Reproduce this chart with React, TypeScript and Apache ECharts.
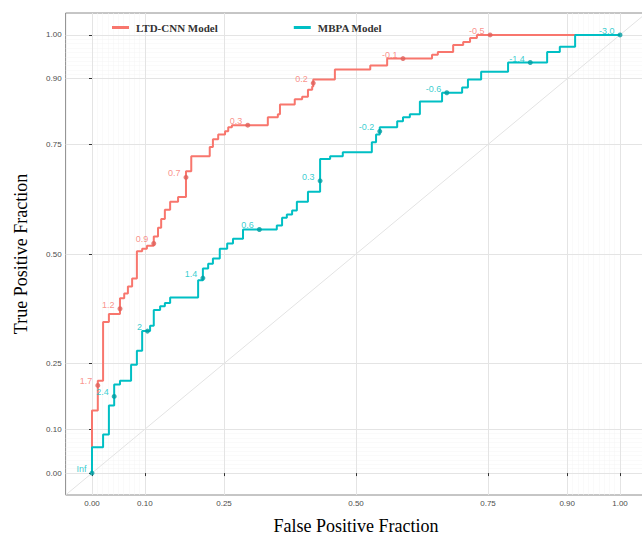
import React, { useEffect, useRef } from "react";
import * as echarts from "echarts";

// ROC step curves: x where a rise happens, TPR after the rise
const ltdFpr = [0, 0, 0.011, 0.021, 0.032, 0.053, 0.061, 0.068, 0.076, 0.085, 0.095, 0.104, 0.117, 0.125, 0.131, 0.138, 0.148, 0.163, 0.178, 0.188, 0.223, 0.229, 0.239, 0.252, 0.258, 0.265, 0.333, 0.352, 0.356, 0.384, 0.398, 0.409, 0.417, 0.419, 0.46, 0.527, 0.559, 0.644, 0.655, 0.684, 0.703, 0.716, 0.729, 1];
const ltdTpr = [0, 0.143, 0.211, 0.345, 0.363, 0.399, 0.41, 0.426, 0.444, 0.506, 0.512, 0.519, 0.54, 0.56, 0.58, 0.601, 0.619, 0.63, 0.689, 0.723, 0.744, 0.762, 0.773, 0.78, 0.789, 0.794, 0.812, 0.819, 0.841, 0.853, 0.859, 0.875, 0.882, 0.898, 0.921, 0.93, 0.946, 0.955, 0.961, 0.977, 0.984, 0.993, 1, 1];

const mbpaFpr = [0, 0, 0.021, 0.032, 0.042, 0.053, 0.074, 0.085, 0.095, 0.11, 0.117, 0.129, 0.138, 0.148, 0.201, 0.21, 0.22, 0.229, 0.242, 0.256, 0.267, 0.286, 0.35, 0.36, 0.369, 0.379, 0.388, 0.409, 0.432, 0.451, 0.475, 0.53, 0.538, 0.545, 0.578, 0.589, 0.602, 0.621, 0.663, 0.701, 0.712, 0.737, 0.788, 0.862, 0.886, 0.915, 1];
const mbpaTpr = [0, 0.059, 0.088, 0.154, 0.202, 0.211, 0.247, 0.279, 0.324, 0.336, 0.372, 0.381, 0.388, 0.401, 0.44, 0.467, 0.478, 0.49, 0.512, 0.524, 0.535, 0.556, 0.565, 0.583, 0.59, 0.599, 0.619, 0.642, 0.717, 0.723, 0.732, 0.755, 0.773, 0.789, 0.803, 0.812, 0.819, 0.848, 0.868, 0.88, 0.898, 0.916, 0.937, 0.961, 0.973, 1, 1];

// Cutoff markers
const ltdCutFpr = [0.011, 0.053, 0.117, 0.178, 0.295, 0.419, 0.589, 0.754];
const ltdCutTpr = [0.2, 0.375, 0.524, 0.675, 0.794, 0.89, 0.946, 1];
const ltdCutLabels = ["1.7", "1.2", "0.9", "0.7", "0.3", "0.2", "-0.1", "-0.5"];

const mbpaCutFpr = [0, 0.042, 0.105, 0.21, 0.317, 0.432, 0.545, 0.672, 0.83, 1];
const mbpaCutTpr = [0, 0.175, 0.324, 0.445, 0.556, 0.667, 0.78, 0.868, 0.937, 1];
const mbpaCutLabels = ["Inf", "2.4", "2", "1.4", "0.6", "0.3", "-0.2", "-0.6", "-1.4", "-3.0"];

const majorBreaks = [0, 0.1, 0.25, 0.5, 0.75, 0.9, 1];
const minorBreaks = [0.01, 0.02, 0.03, 0.04, 0.05, 0.06, 0.07, 0.08, 0.09, 0.91, 0.92, 0.93, 0.94, 0.95, 0.96, 0.97, 0.98, 0.99];

const RED = "#F8766D";
const TEAL = "#00BFC4";

function stepPath(xs: number[], ys: number[]) {
  const pts: number[][] = [[xs[0], ys[0]]];
  for (let i = 1; i < xs.length; i++) {
    pts.push([xs[i], ys[i - 1]]);
    pts.push([xs[i], ys[i]]);
  }
  return pts;
}

export default function App() {
  const ref = useRef<HTMLDivElement>(null);
  useEffect(() => {
    if (!ref.current) return;
    const chart = echarts.init(ref.current, null, { renderer: "svg" });
    const gridLines: any[] = [];
    minorBreaks.forEach((v) => {
      gridLines.push({ xAxis: v, lineStyle: { color: "#F4F4F4", width: 0.5, type: "solid" } });
      gridLines.push({ yAxis: v, lineStyle: { color: "#F4F4F4", width: 0.5, type: "solid" } });
    });
    majorBreaks.forEach((v) => {
      gridLines.push({ xAxis: v, lineStyle: { color: "#E4E4E4", width: 1, type: "solid" } });
      gridLines.push({ yAxis: v, lineStyle: { color: "#E4E4E4", width: 1, type: "solid" } });
    });
    const sansFont = "Liberation Sans";
    chart.setOption({
      animation: false,
      backgroundColor: "#FFFFFF",
      grid: {
        left: 65.6,
        top: 13,
        width: 580.8,
        height: 485,
        show: true,
        borderColor: "#8C8C8C",
        borderWidth: 1,
        backgroundColor: "transparent",
      },
      legend: {
        data: ["LTD-CNN Model", "MBPA Model"],
        left: 107,
        top: 17,
        itemGap: 76,
        itemWidth: 17,
        itemHeight: 3,
        icon: "rect",
        textStyle: { fontFamily: "Liberation Serif", fontWeight: "bold", fontSize: 11, color: "#333333", padding: [0, 0, 0, 2] },
      },
      xAxis: {
        type: "value",
        min: -0.05,
        max: 1.05,
        name: "False Positive Fraction",
        nameLocation: "middle",
        nameGap: 22,
        nameTextStyle: { fontFamily: "Liberation Serif", fontSize: 18, color: "#000000" },
        axisLine: { show: false },
        splitLine: { show: false },
        axisTick: { show: true, customValues: majorBreaks, length: 3, lineStyle: { color: "#333333" } },
        axisLabel: { customValues: majorBreaks, formatter: (v: number) => v.toFixed(2), fontSize: 8, color: "#4D4D4D", fontFamily: sansFont, margin: 4 },
      },
      yAxis: {
        type: "value",
        min: -0.05,
        max: 1.05,
        name: "True Positive Fraction",
        nameLocation: "middle",
        nameGap: 36,
        nameRotate: 90,
        nameTextStyle: { fontFamily: "Liberation Serif", fontSize: 18, color: "#000000" },
        axisLine: { show: false },
        splitLine: { show: false },
        axisTick: { show: true, customValues: majorBreaks, length: 3, lineStyle: { color: "#333333" } },
        axisLabel: { customValues: majorBreaks, formatter: (v: number) => v.toFixed(2), fontSize: 8, color: "#4D4D4D", fontFamily: sansFont, margin: 4 },
      },
      series: [
        {
          name: "diag",
          type: "line",
          data: [[-0.05, -0.05], [1.05, 1.05]],
          showSymbol: false,
          silent: true,
          z: 1,
          lineStyle: { color: "#E3E3E3", width: 1 },
          markLine: { silent: true, symbol: "none", label: { show: false }, data: gridLines, z: 0 },
        },
        {
          name: "LTD-CNN Model",
          type: "line",
          data: stepPath(ltdFpr, ltdTpr),
          showSymbol: false,
          color: RED,
          lineStyle: { color: RED, width: 2 },
          z: 3,
        },
        {
          name: "MBPA Model",
          type: "line",
          data: stepPath(mbpaFpr, mbpaTpr),
          showSymbol: false,
          color: TEAL,
          lineStyle: { color: TEAL, width: 2 },
          z: 4,
        },
        {
          name: "ltdCuts",
          type: "scatter",
          data: ltdCutFpr.map((x, i) => [x, ltdCutTpr[i], ltdCutLabels[i]]),
          symbolSize: 5,
          itemStyle: { color: "#E0605A" },
          z: 5,
          label: { show: true, position: "left", distance: 3, offset: [0, -4], formatter: (p: any) => p.value[2], fontSize: 9, color: RED, fontFamily: sansFont },
        },
        {
          name: "mbpaCuts",
          type: "scatter",
          data: mbpaCutFpr.map((x, i) => [x, mbpaCutTpr[i], mbpaCutLabels[i]]),
          symbolSize: 5,
          itemStyle: { color: "#009EA3" },
          z: 6,
          label: { show: true, position: "left", distance: 3, offset: [0, -4], formatter: (p: any) => p.value[2], fontSize: 9, color: TEAL, fontFamily: sansFont },
        },
      ],
    });
    return () => chart.dispose();
  }, []);
  return (
    <div style={{ position: "fixed", left: 0, top: 0, width: 642, height: 540, overflow: "hidden", background: "#fff" }}>
      <div ref={ref} style={{ width: 647, height: 540 }} />
    </div>
  );
}
